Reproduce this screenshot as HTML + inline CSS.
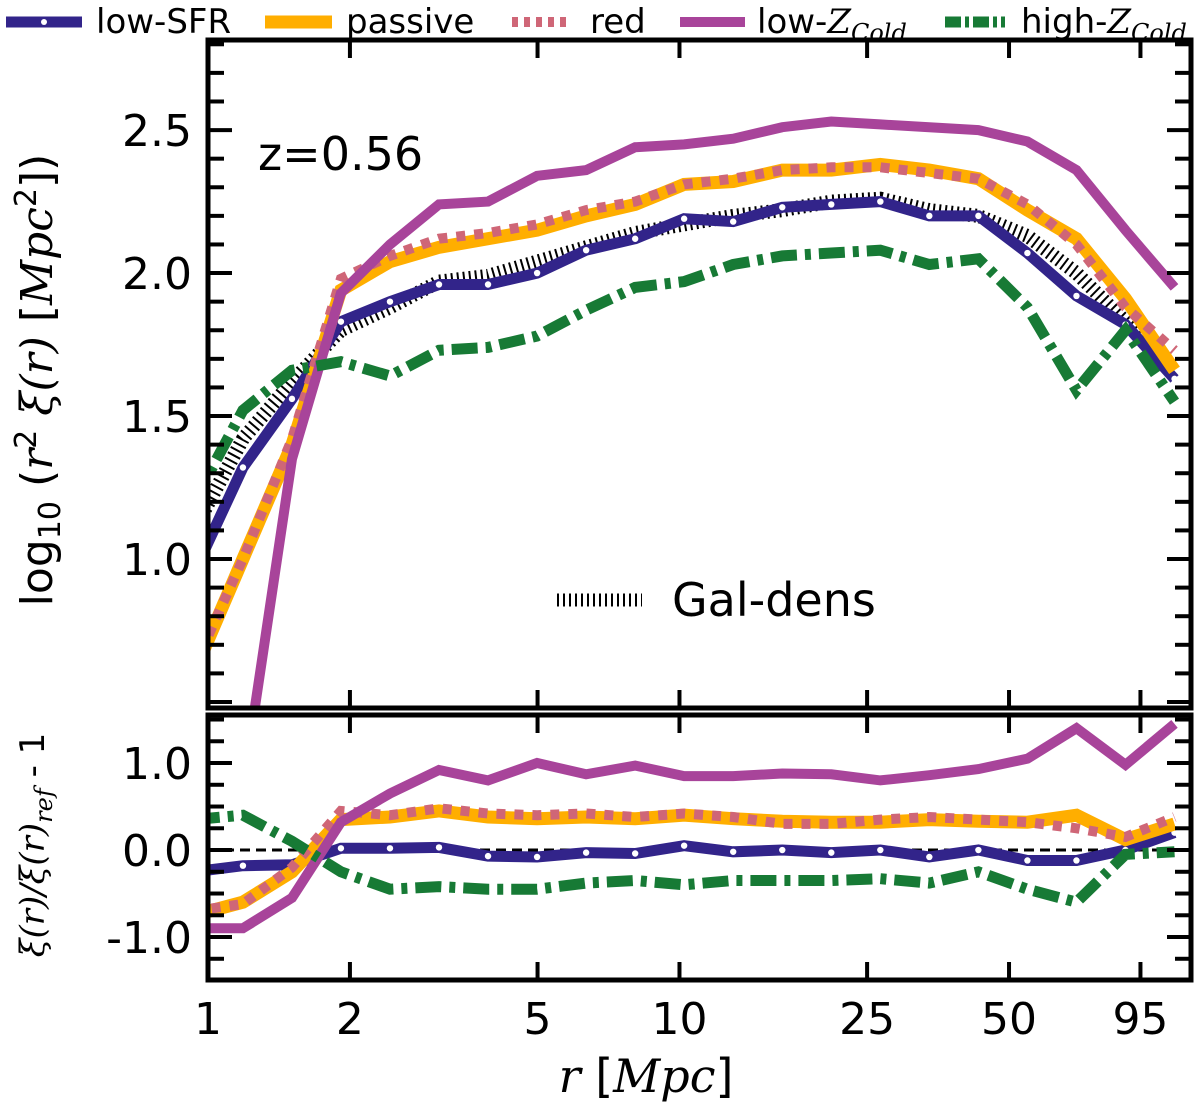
<!DOCTYPE html>
<html><head><meta charset="utf-8"><style>
html,body{margin:0;padding:0;background:#fff;}
svg{display:block;font-family:"DejaVu Sans","Liberation Sans",sans-serif;}
</style></head><body>
<svg id="chart" width="1200" height="1111" viewBox="0 0 1200 1111">
<g id="topPanel"></g>
<g id="botPanel"></g>
<g id="legend"></g>
</svg>
<script>
const rValues = [0.933,1.186,1.507,1.914,2.432,3.09,3.926,4.989,6.339,8.054,10.23,13.0,16.52,20.99,26.67,33.88,43.05,54.7,69.5,88.3,112.2];
const galDens = [1.1,1.42,1.62,1.80,1.88,1.97,1.99,2.04,2.09,2.14,2.17,2.2,2.22,2.25,2.26,2.22,2.2,2.13,2.0,1.83,1.66];
const lowSFR  = [0.95,1.32,1.56,1.83,1.90,1.96,1.96,2.00,2.08,2.12,2.19,2.18,2.23,2.24,2.25,2.20,2.20,2.07,1.92,1.82,1.63];
const passive = [0.6,1.0,1.4,1.94,2.04,2.09,2.12,2.15,2.20,2.24,2.31,2.32,2.36,2.36,2.38,2.36,2.33,2.22,2.12,1.91,1.66];
const red     = [0.62,1.0,1.42,1.98,2.06,2.12,2.14,2.17,2.22,2.25,2.31,2.33,2.36,2.37,2.37,2.35,2.33,2.24,2.10,1.88,1.73];
const lowZ    = [0.1,0.2,1.35,1.93,2.1,2.24,2.25,2.34,2.36,2.44,2.45,2.47,2.51,2.53,2.52,2.51,2.50,2.46,2.36,2.15,1.95];
const highZ   = [1.2,1.52,1.66,1.69,1.64,1.73,1.74,1.78,1.87,1.95,1.97,2.03,2.06,2.07,2.08,2.03,2.05,1.88,1.59,1.80,1.55];
const ratioLowSFR  = [-0.25,-0.18,-0.17,0.02,0.02,0.03,-0.07,-0.08,-0.03,-0.04,0.05,-0.02,0.0,-0.03,0.0,-0.08,0.0,-0.12,-0.12,0.0,0.2];
const ratioPassive = [-0.75,-0.6,-0.25,0.35,0.38,0.45,0.38,0.36,0.38,0.36,0.4,0.36,0.33,0.32,0.32,0.35,0.33,0.32,0.4,0.12,0.3];
const ratioRed     = [-0.7,-0.62,-0.2,0.45,0.4,0.48,0.42,0.4,0.42,0.38,0.42,0.38,0.3,0.3,0.35,0.38,0.35,0.32,0.25,0.15,0.38];
const ratioLowZ    = [-0.9,-0.9,-0.55,0.32,0.65,0.92,0.8,1.0,0.87,0.97,0.85,0.85,0.88,0.87,0.8,0.86,0.93,1.05,1.4,0.98,1.45];
const ratioHighZ   = [0.35,0.4,0.1,-0.25,-0.45,-0.42,-0.45,-0.45,-0.38,-0.35,-0.4,-0.35,-0.35,-0.35,-0.33,-0.38,-0.25,-0.45,-0.6,-0.05,-0.02];
const xTickVals = [1,2,5,10,25,50,95];
const xTickLabels = ["1","2","5","10","25","50","95"];
const topTickVals = [1.0,1.5,2.0,2.5];
const topTickLabels = ["1.0","1.5","2.0","2.5"];
const botTickVals = [1,0,-1];
const botTickLabels = ["1.0","0.0","-1.0"];

const NS="http://www.w3.org/2000/svg";
const L=208,R=1191;
const X0=0,X1=Math.log10(121.6);
const x=v=>L+(Math.log10(v)-X0)/(X1-X0)*(R-L);
const TT=40,TB=708,TY0=0.479,TY1=2.815;
const yT=v=>TB-(v-TY0)/(TY1-TY0)*(TB-TT);
const BT=715,BB=980,BY0=-1.494,BY1=1.552;
const yB=v=>BB-(v-BY0)/(BY1-BY0)*(BB-BT);
function mk(tag,attrs,parent){const e=document.createElementNS(NS,tag);for(const k in attrs)e.setAttribute(k,attrs[k]);parent.appendChild(e);return e;}
const topG=document.getElementById('topPanel'),botG=document.getElementById('botPanel'),leg=document.getElementById('legend');

function panel(g,t,b,name){
  const cp=mk('clipPath',{id:'clip-'+name},g);
  mk('rect',{x:L,y:t,width:R-L,height:b-t},cp);
}
panel(topG,TT,TB,'top');panel(botG,BT,BB,'bot');

const styles={
 gal:{stroke:'#000',w:14,dash:'2,4'},
 low:{stroke:'#32248a',w:11},
 pas:{stroke:'#ffae00',w:13},
 red:{stroke:'#cf6677',w:10,dash:'9,9'},
 lz:{stroke:'#a8449a',w:10},
 hz:{stroke:'#177a35',w:11,dash:'26,8,6,8'}
};
function series(g,vals,yf,st,name,clip){
  const d=vals.map((v,i)=>(i?'L':'M')+x(rValues[i]).toFixed(1)+','+yf(v).toFixed(1)).join('');
  const p=mk('path',{d:d,fill:'none',stroke:st.stroke,'stroke-width':st.w,'stroke-linejoin':'miter','clip-path':'url(#clip-'+clip+')'},g);
  if(st.dash)p.setAttribute('stroke-dasharray',st.dash);
  
  
  return p;
}
function dots(g,vals,yf,clip,name){
  vals.forEach((v,i)=>{
    const c=mk('circle',{cx:x(rValues[i]),cy:yf(v),r:3.2,fill:'#fff','clip-path':'url(#clip-'+clip+')'},g);
    
    
  });
}
series(topG,galDens,yT,styles.gal,'gal-dens-line','top');
series(topG,lowSFR,yT,styles.low,'low-sfr-line','top');
dots(topG,lowSFR,yT,'top','low-sfr-marker');
series(topG,passive,yT,styles.pas,'passive-line','top');
series(topG,red,yT,styles.red,'red-line','top');
series(topG,lowZ,yT,styles.lz,'low-zcold-line','top');
series(topG,highZ,yT,styles.hz,'high-zcold-line','top');

const zl=mk('line',{x1:L,x2:R,y1:yB(0),y2:yB(0),stroke:'#000','stroke-width':3,'stroke-dasharray':'10,6'},botG);


series(botG,ratioLowSFR,yB,styles.low,'ratio-low-sfr-line','bot');
dots(botG,ratioLowSFR,yB,'bot','ratio-low-sfr-marker');
series(botG,ratioPassive,yB,styles.pas,'ratio-passive-line','bot');
series(botG,ratioRed,yB,styles.red,'ratio-red-line','bot');
series(botG,ratioLowZ,yB,styles.lz,'ratio-low-zcold-line','bot');
series(botG,ratioHighZ,yB,styles.hz,'ratio-high-zcold-line','bot');

function tick(g,x1,y1,x2,y2,name){const t=mk('line',{x1,y1,x2,y2,stroke:'#000','stroke-width':4},g);}
function text(g,tx,ty,s,size,anchor,name){const t=mk('text',{x:tx,y:ty,'font-size':size,'text-anchor':anchor,fill:'#000'},g);t.textContent=s;return t;}
xTickVals.forEach(v=>{
  const xx=x(v);
  tick(topG,xx,TB,xx,TB-18,'x-tick-top');tick(topG,xx,TT,xx,TT+18,'x-tick-top');
  tick(botG,xx,BB,xx,BB-18,'x-tick');tick(botG,xx,BT,xx,BT+18,'x-tick');
});
xTickLabels.forEach((s,i)=>text(botG,x(xTickVals[i]),1034,s,44,'middle','x-tick-label'));
for(let k=5;k<=28;k++){const v=k/10,yy=yT(v);if(yy<TT||yy>TB)continue;const len=(k%5===0)?24:16;
  tick(topG,L,yy,L+len,yy,'y-tick');tick(topG,R,yy,R-len,yy,'y-tick');}
topTickLabels.forEach((s,i)=>text(topG,192,yT(topTickVals[i])+16,s,44,'end','y-tick-label'));
for(let k=-5;k<=6;k++){const v=k/4,yy=yB(v);if(yy<BT||yy>BB)continue;const len=(k%4===0)?24:16;
  tick(botG,L,yy,L+len,yy,'ratio-y-tick');tick(botG,R,yy,R-len,yy,'ratio-y-tick');}
botTickLabels.forEach((s,i)=>text(botG,192,yB(botTickVals[i])+16,s,44,'end','ratio-y-tick-label'));
[[topG,TT,TB,'top-frame'],[botG,BT,BB,'ratio-frame']].forEach(([g,t,b,n])=>{const f=mk('rect',{x:L,y:t,width:R-L,height:b-t,fill:'none',stroke:'#000','stroke-width':5},g);});
text(topG,258,170,'z=0.56',46,'start','redshift-label');
const gl=mk('line',{x1:557,x2:642,y1:600,y2:600,stroke:'#000','stroke-width':13,'stroke-dasharray':'2,4'},topG);


text(topG,672,616,'Gal-dens',46,'start','gal-dens-legend-label');
const yt=text(topG,0,0,'',44,'middle','y-axis-title');
yt.setAttribute('transform','translate(52,380) rotate(-90)');
yt.innerHTML='log<tspan font-size="30" dy="8">10</tspan><tspan dy="-8"> (</tspan><tspan font-style="italic" font-family="DejaVu Serif">r</tspan><tspan font-size="30" dy="-16">2</tspan><tspan dy="16"> </tspan><tspan font-style="italic" font-family="DejaVu Serif">ξ(r)</tspan> [<tspan font-style="italic" font-family="DejaVu Serif">Mpc</tspan><tspan font-size="30" dy="-16">2</tspan><tspan dy="16">])</tspan>';
const yb=text(botG,0,0,'',34,'middle','ratio-y-axis-title');
yb.setAttribute('transform','translate(44,845) rotate(-90)');
yb.innerHTML='<tspan font-style="italic" font-family="DejaVu Serif">ξ(r)/ξ(r)</tspan><tspan font-size="24" dy="8" font-style="italic" font-family="DejaVu Serif">ref</tspan><tspan dy="-8"> - 1</tspan>';
const xt=text(botG,646,1092,'',46,'middle','x-axis-title');
xt.innerHTML='<tspan font-style="italic" font-family="DejaVu Serif">r</tspan> [<tspan font-style="italic" font-family="DejaVu Serif">Mpc</tspan>]';
const legItems=[
 {x1:6,x2:82,st:styles.low,label:'low-SFR',tx:96,dot:true,n:'legend-low-sfr'},
 {x1:265,x2:332,st:styles.pas,label:'passive',tx:346,n:'legend-passive'},
 {x1:512,x2:570,st:styles.red,label:'red',tx:590,n:'legend-red'},
 {x1:680,x2:745,st:styles.lz,label:'low-Z',tx:757,sub:true,n:'legend-low-zcold'},
 {x1:945,x2:1005,st:styles.hz,label:'high-Z',tx:1021,sub:true,n:'legend-high-zcold'}
];
legItems.forEach(it=>{
  const g=mk('g',{},leg);
  
  
  const ln=mk('line',{x1:it.x1,x2:it.x2,y1:22,y2:22,stroke:it.st.stroke,'stroke-width':it.st.w},g);
  if(it.st.dash)ln.setAttribute('stroke-dasharray',it.n==='legend-high-zcold'?'16,4,4,4':'6,6');
  if(it.dot)mk('circle',{cx:(it.x1+it.x2)/2,cy:22,r:3,fill:'#fff'},g);
  const t=text(g,it.tx,33,'',34,'start',it.n+'-label');
  if(it.sub)t.innerHTML=it.label.slice(0,-1)+'<tspan font-style="italic" font-family="DejaVu Serif">Z</tspan><tspan font-size="24" dy="8" font-style="italic" font-family="DejaVu Serif">Cold</tspan>';
  else t.textContent=it.label;
});
</script>
</body></html>
